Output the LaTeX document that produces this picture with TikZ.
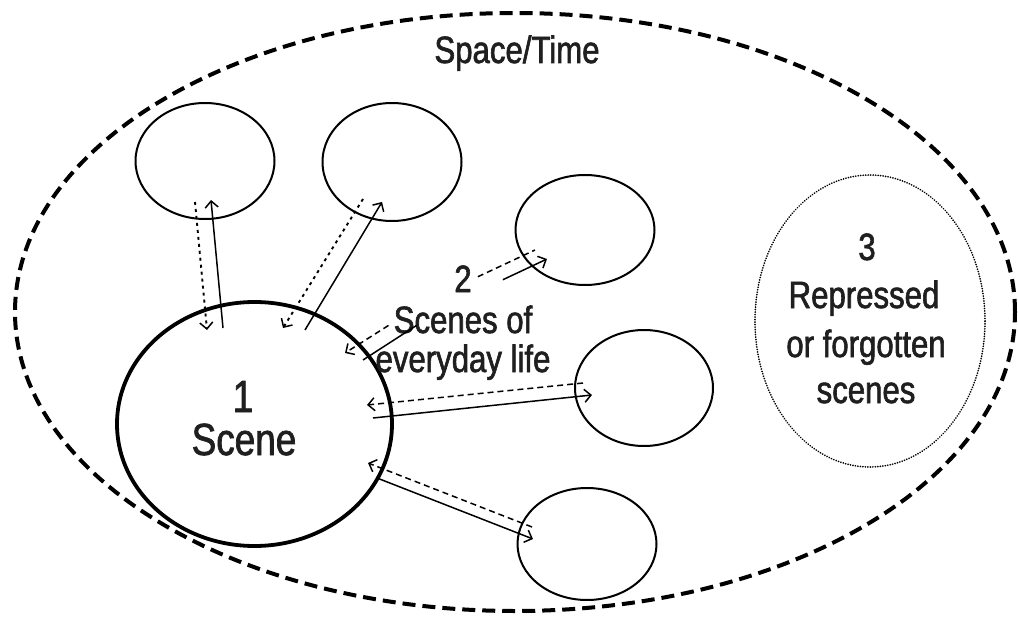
\documentclass[tikz,border=0pt]{standalone}
\usepackage{fontspec}
\setmainfont[FakeStretch=0.82,FakeBold=1.6]{Liberation Sans}
\usetikzlibrary{shapes.geometric,arrows.meta,calc}
\begin{document}
\begin{tikzpicture}[x=1pt,y=-1pt,
  ring/.style={draw, ellipse, inner sep=0pt, line width=2pt},
  lbl/.style={anchor=base, inner sep=0pt, text=black!88, font=\fontsize{38}{46}\selectfont},
  big/.style={anchor=base, inner sep=0pt, text=black!88, font=\fontsize{45}{40}\selectfont},
  tip/.style={-{Straight Barb[length=6.5pt,width=13pt,line width=1.5pt]}},
  solidc/.style={line width=1.5pt},
  dashc/.style={line width=1.5pt, dash pattern=on 6pt off 4pt},
  dotc/.style={line width=1.9pt, dash pattern=on 3pt off 4pt}]
\useasboundingbox (0,0) rectangle (1018,623);
% outer space/time
\node[draw, ellipse, inner sep=0pt, line width=4pt, dash pattern=on 13pt off 7pt,
      minimum width=1000pt, minimum height=598pt] (space) at (515,312) {};
% repressed scenes
\node[draw, ellipse, inner sep=0pt, line width=1.8pt, dash pattern=on 0.1pt off 2.4pt, line cap=round,
      minimum width=230pt, minimum height=292pt] (rep) at (870,321) {};
% main scene
\node[draw, ellipse, inner sep=0pt, line width=3.8pt, minimum width=275pt, minimum height=244pt] (main) at (254.5,424) {};
% everyday scenes
\node[ring, minimum width=139pt, minimum height=116pt] (c1) at (205,161) {};
\node[ring, minimum width=139pt, minimum height=118pt] (c2) at (392,162) {};
\node[ring, minimum width=139pt, minimum height=110pt] (c3) at (585,230) {};
\node[ring, minimum width=138pt, minimum height=116pt] (c4) at (644,388) {};
\node[ring, minimum width=139pt, minimum height=112pt] (c5) at (587,544) {};
% texts
\node[lbl] (st) at (517,63) {Space/Time};
\node[big] (one) at (243,412) {1};
\node[big] (scn) at (244,455) {Scene};
\node[lbl] (two) at (463,292) {2};
\node[lbl] (sc1) at (463,333) {Scenes of};
\node[lbl] (sc2) at (463,372) {everyday life};
\node[lbl] (three) at (867,260) {3};
\node[lbl] (r1) at (864,308) {Repressed};
\node[lbl] (r2) at (866,357) {or forgotten};
\node[lbl] (r3) at (866,403) {scenes};
% connectors c1
\draw[dotc, tip] ($(c1.center)+(-10,41)$) -- ($(main.center)+(-47.5,-94)$);
\draw[solidc, tip] ($(main.center)+(-31.5,-96)$) -- ($(c1.center)+(6,39)$);
% c2
\draw[dotc, tip] ($(c2.center)+(-29,37)$) -- ($(main.center)+(28.5,-96)$);
\draw[solidc, tip] ($(main.center)+(50.5,-94)$) -- ($(c2.center)+(-10,40)$);
% label arrows
\draw[dashc, tip] ($(sc1.west)+(-5,6)$) -- ($(main.center)+(90.5,-71)$);
\draw[solidc] ($(sc1.west)+(23,6)$) -- ($(main.center)+(108.5,-64)$);
\draw[dashc] ($(two.east)+(6,-2)$) -- ($(c3.center)+(-50,20)$);
\draw[solidc, tip] ($(two.east)+(31,1)$) -- ($(c3.center)+(-38,29)$);
% c4
\draw[dashc, tip] ($(c4.center)+(-61,-5)$) -- ($(main.center)+(112.5,-19)$);
\draw[solidc, tip] ($(main.center)+(118.5,-6)$) -- ($(c4.center)+(-52,7)$);
% c5
\draw[dashc, tip] ($(c5.center)+(-55,-17)$) -- ($(main.center)+(113.5,39)$);
\draw[solidc, tip] ($(main.center)+(122.5,54)$) -- ($(c5.center)+(-54,-5)$);
\end{tikzpicture}
\end{document}
